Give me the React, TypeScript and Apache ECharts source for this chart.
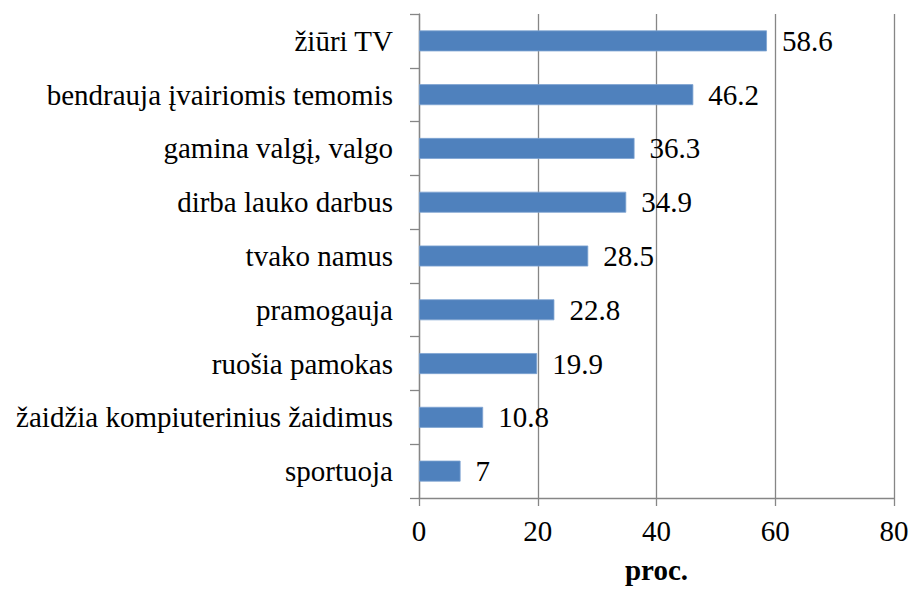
import React, { useEffect, useRef } from "react";
import * as echarts from "echarts";

const categories = [
  "žiūri TV",
  "bendrauja įvairiomis temomis",
  "gamina valgį, valgo",
  "dirba lauko darbus",
  "tvako namus",
  "pramogauja",
  "ruošia pamokas",
  "žaidžia kompiuterinius žaidimus",
  "sportuoja",
];
const values = [58.6, 46.2, 36.3, 34.9, 28.5, 22.8, 19.9, 10.8, 7];
const axisName = "proc.";

const FONT = "Liberation Serif";

export default function App() {
  const ref = useRef<HTMLDivElement>(null);
  useEffect(() => {
    document.body.style.margin = "0";
    const chart = echarts.init(ref.current!, null, { renderer: "svg" });
    chart.setOption({
      animation: false,
      textStyle: { fontFamily: FONT },
      grid: { left: 419, top: 14, right: 18, bottom: 89, containLabel: false },
      xAxis: {
        type: "value",
        min: 0,
        max: 80,
        interval: 20,
        name: axisName,
        nameLocation: "middle",
        nameGap: 57,
        nameTextStyle: { fontFamily: FONT, fontSize: 29, fontWeight: "bold", color: "#000" },
        axisLine: { show: true, lineStyle: { color: "#868686", width: 1.3 } },
        axisTick: { show: true, length: 8, lineStyle: { color: "#868686", width: 1.3 } },
        axisLabel: { fontFamily: FONT, fontSize: 29, color: "#000", margin: 18 },
        splitLine: { show: true, lineStyle: { color: "#868686", width: 1.3 } },
      },
      yAxis: {
        type: "category",
        data: categories,
        inverse: true,
        axisLine: { show: true, lineStyle: { color: "#868686", width: 1.3 } },
        axisTick: { show: true, length: 9, lineStyle: { color: "#868686", width: 1.3 } },
        axisLabel: { fontFamily: FONT, fontSize: 29, color: "#000", margin: 26 },
        splitLine: { show: false },
      },
      series: [
        {
          type: "bar",
          data: values,
          barCategoryGap: "61%",
          itemStyle: { color: "#4F81BD", borderColor: "#7EA3D2", borderWidth: 0.8 },
          label: {
            show: true,
            position: "right",
            distance: 15,
            fontFamily: FONT,
            fontSize: 29,
            color: "#000",
          },
        },
      ],
    });
    return () => chart.dispose();
  }, []);
  return <div ref={ref} style={{ width: 912, height: 589 }} />;
}
